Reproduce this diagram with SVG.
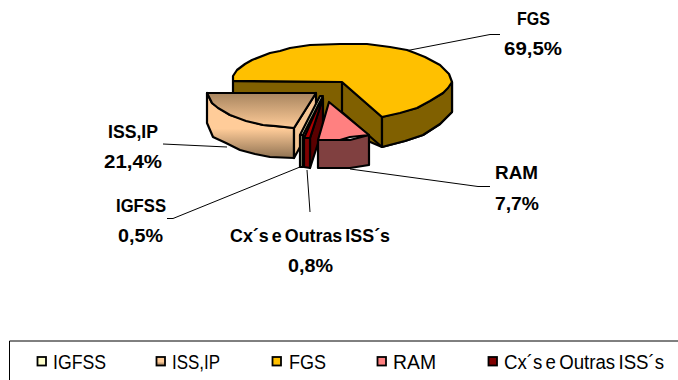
<svg xmlns="http://www.w3.org/2000/svg" width="678" height="380" viewBox="0 0 678 380">
<style>
.s{stroke:#000;stroke-width:2.200;stroke-linejoin:round}
.l{stroke:#000;stroke-width:1;fill:none}
.t{font-family:"Liberation Sans",Arial,sans-serif;font-weight:bold;font-size:19px;fill:#000;text-anchor:start}
.k{font-family:"Liberation Sans",Arial,sans-serif;font-size:20px;fill:#000}
.b{stroke:#000;stroke-width:1.800}
</style>
<defs>
<linearGradient id="g2" x1="0" y1="0" x2="0" y2="1"><stop offset="0" stop-color="#ffcc99"/><stop offset="0.55" stop-color="#ffcc99"/><stop offset="1" stop-color="#8f7252"/></linearGradient>
<linearGradient id="g3" x1="0" y1="0" x2="0" y2="1"><stop offset="0" stop-color="#a8855f"/><stop offset="1" stop-color="#ffcc99"/></linearGradient>
</defs>
<rect width="678" height="380" fill="#fff"/>
<g id="connectors">
<path class="l" d="M405 51L490 34.500H500"/>
<path class="l" d="M163 144L227 147"/>
<path class="l" d="M350 169L478 186.500H490"/>
<path class="l" d="M167 218.500H173L300 167"/>
<path class="l" d="M307 170L310 212"/>
</g>
<g id="node-fgs">
<path class="s" fill="#806000" d="M233 81V112L342 130L382 147L405 141L423 135L440 124L452 112V82L342 82Z"/>
<path class="s" fill="#806000" d="M342 82L382 117V147L342 112Z"/>
<path class="s" fill="#806000" d="M382 117L417 108L443 93L452 82V112L440 124L423 135L405 141L382 147Z"/>
<path class="s" fill="#ffc000" d="M233 81L233 76L237 70L245 64L252 60L270 53L280 51L290 48L310 45L340 44L367 44L390 47L407 50L415 53L425 57L440 65L449 74L452 82L448 88L443 93L430 101L417 108L400 113L382 117L342 82Z"/>
</g>
<g id="node-iss">
<path class="s" fill="url(#g2)" d="M207 93V123L213 137L226 143L240 150L255 154L270 157L294 158V128L263 125L230 115L212 103Z"/>
<path class="s" fill="#f5c593" d="M294 128L316 93V118L294 158Z"/>
<path class="s" fill="url(#g3)" d="M207 93H316L294 128L276 126L263 125L246 121L230 115L218 108L212 103Z"/>
</g>
<g id="node-igfss">
<path class="s" fill="#ffffcc" d="M300 135L320 96L323 96L303 135Z"/>
<path class="s" fill="#8c8c70" d="M300 135H303V167H300Z"/>
</g>
<g id="node-cx">
<path class="s" fill="#5a0000" d="M310 138L323 98V128L310 168Z"/>
<path class="s" fill="#800000" d="M304 138H310V168L304 167Z"/>
<path class="s" fill="#b00000" d="M304 138L319 104L323 98L310 138Z"/>
</g>
<g id="node-ram">
<path class="s" fill="#804040" d="M318 140H350L369 135V165L350 168H318Z"/>
<path class="s" fill="#ff8080" d="M329 102L369 135L350 137L340 140H318Z"/>
</g>
<g id="labels">
<text class="t" x="517" y="25" textLength="33" lengthAdjust="spacingAndGlyphs">FGS</text>
<text class="t" x="504" y="55" textLength="58" lengthAdjust="spacingAndGlyphs">69,5%</text>
<text class="t" x="108" y="138" textLength="50" lengthAdjust="spacingAndGlyphs">ISS,IP</text>
<text class="t" x="104" y="168" textLength="58" lengthAdjust="spacingAndGlyphs">21,4%</text>
<text class="t" x="116" y="212" textLength="50" lengthAdjust="spacingAndGlyphs">IGFSS</text>
<text class="t" x="118" y="242" textLength="45" lengthAdjust="spacingAndGlyphs">0,5%</text>
<text class="t" x="230" y="242" textLength="160" lengthAdjust="spacingAndGlyphs" word-spacing="-2">Cx´s e Outras ISS´s</text>
<text class="t" x="288" y="272" textLength="45" lengthAdjust="spacingAndGlyphs">0,8%</text>
<text class="t" x="495" y="179" textLength="43" lengthAdjust="spacingAndGlyphs">RAM</text>
<text class="t" x="495" y="210" textLength="44" lengthAdjust="spacingAndGlyphs">7,7%</text>
</g>
<g id="legend">
<path fill="none" stroke="#000" stroke-width="1" d="M9.500 380V341H678"/>
<rect class="b" x="37.500" y="357" width="8.500" height="8.500" fill="#ffffcc"/>
<text class="k" x="53" y="369" textLength="53" lengthAdjust="spacingAndGlyphs">IGFSS</text>
<rect class="b" x="156.500" y="357" width="8.500" height="8.500" fill="url(#g2)"/>
<text class="k" x="172" y="369" textLength="48" lengthAdjust="spacingAndGlyphs">ISS,IP</text>
<rect class="b" x="272.500" y="357" width="8.500" height="8.500" fill="#ffc000"/>
<text class="k" x="289" y="369" textLength="37" lengthAdjust="spacingAndGlyphs">FGS</text>
<rect class="b" x="377.500" y="357" width="8.500" height="8.500" fill="#ff8080"/>
<text class="k" x="393" y="369" textLength="43" lengthAdjust="spacingAndGlyphs">RAM</text>
<rect class="b" x="488.500" y="357" width="8.500" height="8.500" fill="#800000"/>
<text class="k" x="504" y="369" textLength="160" lengthAdjust="spacingAndGlyphs" word-spacing="-2">Cx´s e Outras ISS´s</text>
</g>
</svg>
